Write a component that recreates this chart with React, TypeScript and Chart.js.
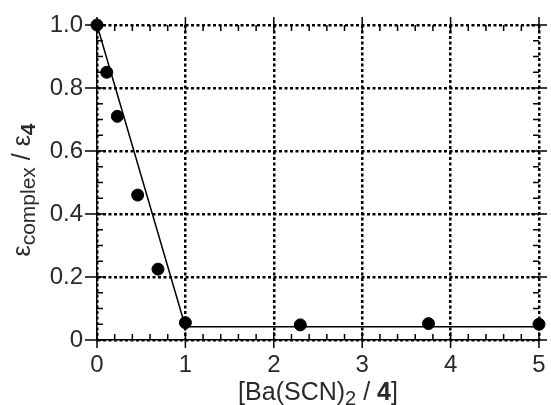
import React, { useEffect, useRef } from "react";
import { Chart, registerables } from "chart.js";

Chart.register(...registerables);

const ratioX = [0, 0.11, 0.23, 0.46, 0.69, 1.0, 2.3, 3.75, 5.0];
const epsRatio = [1.0, 0.85, 0.71, 0.46, 0.225, 0.055, 0.048, 0.052, 0.05];
const fitX = [0, 1.0, 5.0];
const fitY = [1.0, 0.042, 0.042];
const xTicks = [0, 1, 2, 3, 4, 5];
const yTicks = [0, 0.2, 0.4, 0.6, 0.8, 1.0];

const FONT = "'Liberation Sans', Arial, Helvetica, sans-serif";
const TXT = "#2a2a2a";

type Seg = { t: string; size: number; bold?: boolean; dy?: number };

function drawRich(ctx: CanvasRenderingContext2D, segs: Seg[], cx: number, baseY: number) {
  let total = 0;
  const widths = segs.map((s) => {
    ctx.font = `${s.bold ? "bold " : ""}${s.size}px ${FONT}`;
    const w = ctx.measureText(s.t).width;
    total += w;
    return w;
  });
  let x = cx - total / 2;
  ctx.textAlign = "left";
  ctx.textBaseline = "alphabetic";
  segs.forEach((s, i) => {
    ctx.font = `${s.bold ? "bold " : ""}${s.size}px ${FONT}`;
    ctx.fillText(s.t, x, baseY + (s.dy || 0));
    x += widths[i];
  });
}

const decoPlugin = {
  id: "deco",
  afterDraw(chart: any) {
    const ctx: CanvasRenderingContext2D = chart.ctx;
    const xs = chart.scales.x;
    const ys = chart.scales.y;
    const { left, right, top, bottom } = chart.chartArea;
    ctx.save();
    ctx.strokeStyle = "#000";
    ctx.lineWidth = 1.5;
    ctx.beginPath();
    for (let i = 0; i <= 25; i++) {
      if (i % 5 === 0) continue;
      const px = xs.getPixelForValue(i * 0.2);
      ctx.moveTo(px, bottom);
      ctx.lineTo(px, bottom - 6);
      ctx.moveTo(px, top);
      ctx.lineTo(px, top + 6);
    }
    for (let i = 0; i <= 20; i++) {
      if (i % 4 === 0) continue;
      const py = ys.getPixelForValue(i * 0.05);
      ctx.moveTo(left, py);
      ctx.lineTo(left + 6, py);
      ctx.moveTo(right, py);
      ctx.lineTo(right - 6, py);
    }
    xTicks.forEach((v) => {
      const px = xs.getPixelForValue(v);
      ctx.moveTo(px, bottom - 8);
      ctx.lineTo(px, bottom + 8);
      ctx.moveTo(px, top - 8);
      ctx.lineTo(px, top + 8);
    });
    yTicks.forEach((v) => {
      const py = ys.getPixelForValue(v);
      ctx.moveTo(left - 12, py);
      ctx.lineTo(left + 8, py);
      ctx.moveTo(right - 8, py);
      ctx.lineTo(right + 8, py);
    });
    ctx.stroke();

    ctx.fillStyle = TXT;
    drawRich(
      ctx,
      [
        { t: "[Ba(SCN)", size: 25 },
        { t: "2", size: 20, dy: 5 },
        { t: " / ", size: 25 },
        { t: "4", size: 25, bold: true },
        { t: "]", size: 25 },
      ],
      (left + right) / 2,
      400
    );
    ctx.save();
    ctx.translate(30, 190);
    ctx.rotate(-Math.PI / 2);
    drawRich(
      ctx,
      [
        { t: "ε", size: 25 },
        { t: "complex", size: 21, dy: 5 },
        { t: " / ε", size: 25 },
        { t: "4", size: 21, bold: true, dy: 5 },
      ],
      0,
      0
    );
    ctx.restore();
    ctx.restore();
  },
};

export default function App() {
  const ref = useRef<HTMLCanvasElement | null>(null);
  useEffect(() => {
    if (!ref.current) return;
    const chart = new Chart(ref.current, {
      type: "scatter",
      data: {
        datasets: [
          {
            label: "data",
            data: ratioX.map((x, i) => ({ x, y: epsRatio[i] })),
            backgroundColor: "#000",
            borderColor: "#000",
            pointRadius: 6,
            pointHoverRadius: 6,
            showLine: false,
            clip: false as any,
            order: 0,
          },
          {
            label: "fit",
            data: fitX.map((x, i) => ({ x, y: fitY[i] })),
            borderColor: "#000",
            backgroundColor: "#000",
            borderWidth: 1.5,
            pointRadius: 0,
            showLine: true,
            clip: false as any,
            order: 1,
          },
        ],
      },
      options: {
        responsive: false,
        animation: false,
        layout: { padding: { left: 0, right: 12, top: 25, bottom: 0 } },
        plugins: { legend: { display: false }, tooltip: { enabled: false } },
        scales: {
          x: {
            type: "linear",
            min: 0,
            max: 5,
            afterFit: (s: any) => {
              s.height = 65;
            },
            ticks: {
              stepSize: 1,
              color: TXT,
              font: { family: FONT, size: 24 },
              padding: 3,
              maxRotation: 0,
            },
            grid: {
              color: "#000",
              lineWidth: 2.5,
              drawTicks: true,
              tickLength: 8,
              tickColor: "rgba(0,0,0,0)",
            },
            border: { display: true, color: "#000", width: 1.5, dash: [3, 2.5] },
          },
          y: {
            type: "linear",
            min: 0,
            max: 1,
            afterFit: (s: any) => {
              s.width = 97;
            },
            ticks: {
              stepSize: 0.2,
              color: TXT,
              font: { family: FONT, size: 24 },
              padding: 2,
              callback: (v: any) => (Number(v) === 0 ? "0" : Number(v).toFixed(1)),
            },
            grid: {
              color: "#000",
              lineWidth: 2.5,
              drawTicks: true,
              tickLength: 12,
              tickColor: "rgba(0,0,0,0)",
            },
            border: { display: true, color: "#000", width: 1.5, dash: [3, 2.5] },
          },
        },
      },
      plugins: [decoPlugin],
    });
    return () => chart.destroy();
  }, []);
  return (
    <div style={{ position: "fixed", left: 0, top: 0, width: 551, height: 405, background: "#fff" }}>
      <canvas ref={ref} width={551} height={405} style={{ display: "block" }} />
    </div>
  );
}
